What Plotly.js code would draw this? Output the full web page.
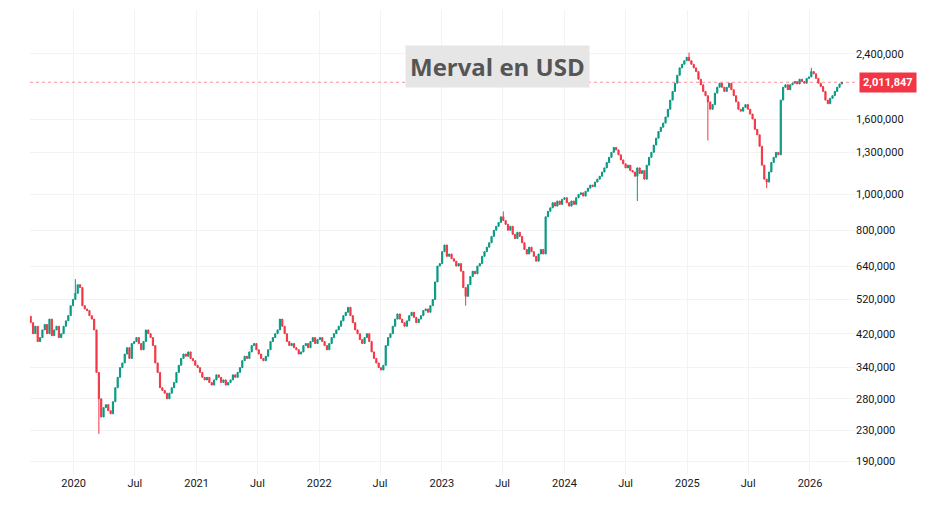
<!DOCTYPE html>
<html>
<head>
<meta charset="utf-8">
<script src="https://cdn.plot.ly/plotly-3.0.1.min.js"></script>
<style>body{margin:0;background:#fff}#chart{width:943px;height:516px}</style>
</head>
<body>
<div id="chart"></div>
<script>
// weekly closes in thousands of USD, first week starting 2019-08-26
var startWeek = '2019-08-26';
var closes = [
  450,420,440,400,410,430,445,420,460,415,430,440,410,420,440,455,470,500,520,
  // 2020
  540,570,560,500, 490,485,470,460, 430,330,280,250,265, 270,260,255,275, 300,320,340,350,
  370,385,360,395,400, 410,395,380,400, 430,420,410,390, 350,330,300,295,290,
  280,290,300,310, 330,345,360,370, 365,375,360,355,345,
  // 2021
  340,330,320,315, 320,310,305,315, 325,320,310,315,305, 310,315,325,320, 330,340,355,365,
  360,375,390,395, 380,370,360,355,365, 380,400,410,420, 430,460,440,420,
  400,390,395,385,380, 370,375,390,395, 385,400,410,395,405,
  // 2022
  410,400,390,380, 395,410,420,430, 440,455,470,480, 495,470,450,430,420, 405,395,410,420,
  400,375,360,350, 340,335,345,390,410, 420,440,460,475, 460,450,440,455,
  470,480,465,450,460, 470,485,490,480, 500,520,580,640,650,
  // 2023
  700,730,680,690, 670,660,640,650, 620,560,530,570, 600,620,610,640,650, 680,700,720,740,
  770,800,820,840, 870,850,830,800,820, 780,760,790,770, 740,710,690,720,
  700,680,660,690,710, 690,870,900,920, 950,930,960,940,970,
  // 2024
  980,950,930,960, 940,980,1000,1010, 990,1020,1040,1060, 1050,1080,1100,1120,1150,
  1180,1220,1260,1300, 1340,1320,1280,1240, 1210,1180,1200,1160,1150, 1120,1180,1140,1160,
  1100,1200,1260,1300, 1360,1420,1480,1520,1560, 1620,1700,1800,1900, 2000,2100,2200,2250,2300,
  // 2025
  2350,2300,2250,2200, 2150,2050,1980,1900, 1850,1780,1700,1750, 1880,1950,2000,1950,1900,
  1950,2000,1920,1850, 1780,1700,1680,1720, 1750,1700,1650,1600,1500, 1450,1350,1200,1100,
  1080,1150,1220,1260, 1300,1280,1800,1950,1980, 1920,1980,2000,2020, 1990,2050,2020,2000,2060,
  // 2026
  2080,2150,2120,2060, 2000,1960,1900,1800, 1760,1820,1850,1900,1950, 1990,2011.847
];
// notable wick extremes by date, value in thousands
var wickLows = [['2020-03-16', 225], ['2023-03-13', 500], ['2024-08-05', 960], ['2025-03-03', 1400], ['2025-08-25', 1040]];
var wickHighs = [['2020-01-06', 590], ['2023-07-03', 900], ['2025-01-06', 2420], ['2026-01-05', 2200]];

var tickVals = [190000, 230000, 280000, 340000, 420000, 520000, 640000, 800000, 1000000, 1300000, 1600000, 2400000];
var tickText = ['190,000', '230,000', '280,000', '340,000', '420,000', '520,000', '640,000', '800,000', '1,000,000', '1,300,000', '1,600,000', '2,400,000'];
var xTickVals = ['2020-01-01','2020-07-01','2021-01-01','2021-07-01','2022-01-01','2022-07-01','2023-01-01','2023-07-01','2024-01-01','2024-07-01','2025-01-01','2025-07-01','2026-01-01'];
var xTickText = ['2020','Jul','2021','Jul','2022','Jul','2023','Jul','2024','Jul','2025','Jul','2026'];
var lastPrice = 2011847;

function iso(d) { return d.toISOString().slice(0, 10); }
var dates = [], o = [], h = [], l = [], c = [];
var t0 = new Date(startWeek + 'T00:00:00Z');
for (var i = 0; i < closes.length; i++) {
  var d = new Date(t0.getTime() + i * 7 * 86400000);
  dates.push(iso(d));
  var cl = closes[i] * 1000;
  var op = (i === 0 ? closes[0] * 1.04 : closes[i - 1]) * 1000;
  o.push(op); c.push(cl);
  h.push(Math.max(op, cl)); l.push(Math.min(op, cl));
}
function nearest(ds) {
  var t = new Date(ds + 'T00:00:00Z').getTime();
  return Math.round((t - t0.getTime()) / (7 * 86400000));
}
wickLows.forEach(function (w) { var k = nearest(w[0]); if (k >= 0 && k < c.length) l[k] = w[1] * 1000; });
wickHighs.forEach(function (w) { var k = nearest(w[0]); if (k >= 0 && k < c.length) h[k] = w[1] * 1000; });

var trace = {
  type: 'candlestick', x: dates, open: o, high: h, low: l, close: c,
  increasing: {line: {color: '#089981', width: 1}, fillcolor: '#089981'},
  decreasing: {line: {color: '#F23645', width: 1}, fillcolor: '#F23645'},
  whiskerwidth: 0, hoverinfo: 'skip'
};

var layout = {
  width: 943, height: 516,
  margin: {l: 30, r: 88, t: 10, b: 41},
  paper_bgcolor: '#ffffff', plot_bgcolor: '#ffffff',
  showlegend: false,
  font: {family: 'Roboto, "Liberation Sans", sans-serif', size: 11, color: '#131722'},
  xaxis: {
    type: 'date', range: ['2019-08-24', '2026-05-15'],
    rangeslider: {visible: false},
    tickvals: xTickVals, ticktext: xTickText,
    showgrid: true, gridcolor: '#f3f3f3', zeroline: false, showline: false,
    ticks: '', tickfont: {size: 11, color: '#131722'}
  },
  yaxis: {
    type: 'log', side: 'right', range: [5.241, 6.499],
    tickvals: tickVals, ticktext: tickText,
    showgrid: true, gridcolor: '#f3f3f3', zeroline: false, showline: false,
    ticks: '', tickfont: {size: 11, color: '#131722'}
  },
  shapes: [{
    type: 'line', xref: 'paper', x0: 0, x1: 1, yref: 'y', y0: lastPrice, y1: lastPrice,
    line: {color: 'rgba(242,54,69,0.7)', width: 0.8, dash: 'dot'}
  }],
  annotations: [{
    xref: 'paper', x: 1.005, xanchor: 'left', yref: 'y', y: Math.log10(lastPrice),
    text: '<b>2,011,847</b>', showarrow: false, bgcolor: '#F23645',
    font: {color: '#ffffff', size: 11}, borderpad: 3
  }, {
    xref: 'paper', x: 0.567, xanchor: 'center', yref: 'paper', y: 0.925,
    text: '<b>Merval en USD</b>', showarrow: false, bgcolor: '#e6e6e6',
    font: {color: '#555555', size: 24, family: '"Open Sans", "DejaVu Sans", sans-serif'}, borderpad: 4
  }]
};

Plotly.newPlot('chart', [trace], layout, {staticPlot: true});
</script>
</body>
</html>
